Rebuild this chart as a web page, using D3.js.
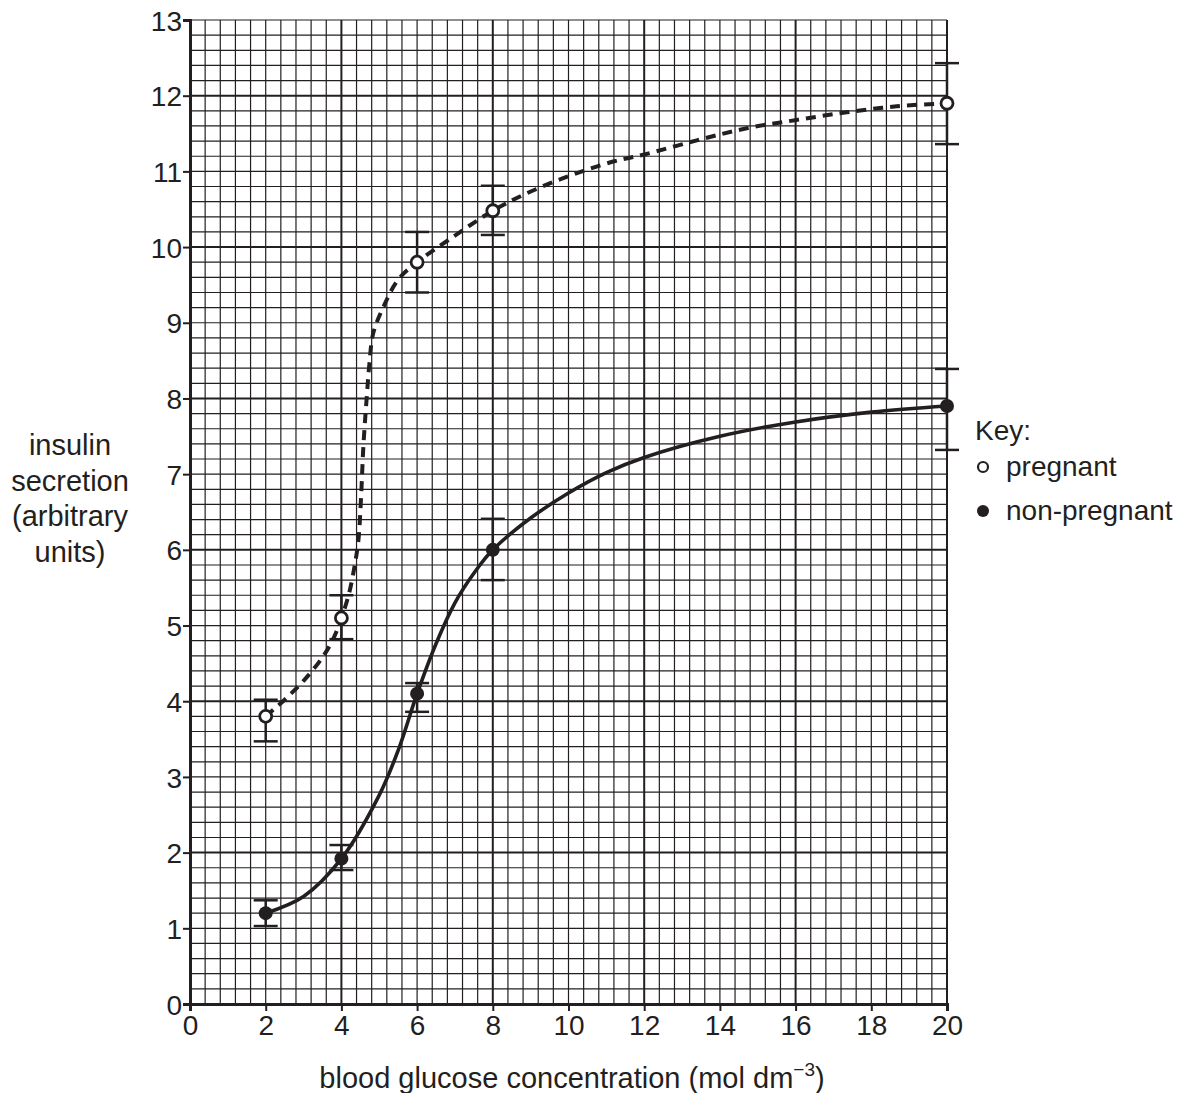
<!DOCTYPE html>
<html>
<head>
<meta charset="utf-8">
<script src="https://cdn.jsdelivr.net/npm/d3@7"></script>
<style>
  html, body { margin: 0; padding: 0; background: #fff; }
  svg text { font-family: "Liberation Sans", Arial, Helvetica, sans-serif; fill: #231f20; }
</style>
</head>
<body>
<svg id="chart" width="1192" height="1093"></svg>
<script>
// ---- data ----
const xTicks = [0, 2, 4, 6, 8, 10, 12, 14, 16, 18, 20];
const yTicks = [0, 1, 2, 3, 4, 5, 6, 7, 8, 9, 10, 11, 12, 13];
const glucose = [2, 4, 6, 8, 20];
const pregnantMean = [3.8, 5.1, 9.8, 10.48, 11.9];
const pregnantLow  = [3.47, 4.82, 9.4, 10.16, 11.36];
const pregnantHigh = [4.02, 5.4, 10.2, 10.81, 12.43];
const nonPregMean = [1.2, 1.92, 4.1, 6.0, 7.9];
const nonPregLow  = [1.03, 1.77, 3.86, 5.6, 7.32];
const nonPregHigh = [1.37, 2.1, 4.24, 6.41, 8.39];
// hand-drawn best-fit curves
const pregnantCurveX = [2, 2.5, 3.0, 3.5, 3.8, 4.0, 4.2, 4.36, 4.45, 4.52, 4.58, 4.67, 4.74, 4.84, 5.11, 5.5, 6.0, 6.82, 8.0, 8.81, 9.86, 11.18, 11.98, 13.39, 14.71, 16.03, 17.35, 18.67, 20];
const pregnantCurveY = [3.8, 4.02, 4.27, 4.58, 4.84, 5.1, 5.42, 5.82, 6.13, 6.7, 7.36, 8.02, 8.46, 8.86, 9.21, 9.57, 9.8, 10.09, 10.48, 10.69, 10.91, 11.13, 11.22, 11.41, 11.57, 11.68, 11.78, 11.86, 11.9];
const nonPregCurveX = [2, 3, 4, 5, 5.5, 6, 6.5, 7, 7.5, 8, 9, 10, 11, 12, 14, 16, 18, 20];
const nonPregCurveY = [1.2, 1.42, 1.92, 2.76, 3.35, 4.1, 4.76, 5.3, 5.69, 6.0, 6.42, 6.75, 7.02, 7.22, 7.5, 7.69, 7.82, 7.9];
const legendLabels = ["pregnant", "non-pregnant"];
const xTitle = "blood glucose concentration (mol dm";
const yTitleLines = ["insulin", "secretion", "(arbitrary", "units)"];

// ---- drawing ----
const svg = d3.select("#chart");
const ink = "#231f20";
const x = d3.scaleLinear().domain([0, 20]).range([190, 947]);
const y = d3.scaleLinear().domain([0, 13]).range([1004, 20]);

// grid
const grid = svg.append("g");
const xMinor = d3.range(0, 20.0001, 0.4);
const yMinor = d3.range(0, 13.0001, 0.2);
xMinor.forEach((v, i) => {
  const major = i % 10 === 0;
  grid.append("line")
    .attr("x1", x(v)).attr("x2", x(v)).attr("y1", y(0)).attr("y2", y(13))
    .attr("stroke", ink).attr("stroke-width", major ? 2 : 1.2);
});
yMinor.forEach((v, i) => {
  const major = i % 10 === 0;
  grid.append("line")
    .attr("x1", x(0)).attr("x2", x(20)).attr("y1", y(v)).attr("y2", y(v))
    .attr("stroke", ink).attr("stroke-width", major ? 2 : 1.2);
});

// axes
const xAxis = svg.append("g").attr("transform", `translate(0,${y(0)})`)
  .call(d3.axisBottom(x).tickValues(xTicks).tickSize(7).tickPadding(4).tickFormat(d3.format("d")));
const yAxis = svg.append("g").attr("transform", `translate(${x(0)},0)`)
  .call(d3.axisLeft(y).tickValues(yTicks).tickSize(7).tickPadding(1).tickFormat(d3.format("d")));
[xAxis, yAxis].forEach(a => {
  a.attr("font-size", 28).attr("font-family", "Liberation Sans, Arial, sans-serif");
  a.select(".domain").attr("stroke", ink).attr("stroke-width", 3);
  a.selectAll(".tick line").attr("stroke", ink).attr("stroke-width", 2);
  a.selectAll(".tick text").attr("fill", ink);
});
yAxis.selectAll(".tick text").attr("dy", "0.36em");

// curves
const line = d3.line().x(d => x(d[0])).y(d => y(d[1])).curve(d3.curveCatmullRom.alpha(0.5));
svg.append("path")
  .datum(pregnantCurveX.map((v, i) => [v, pregnantCurveY[i]]))
  .attr("d", line).attr("fill", "none").attr("stroke", ink)
  .attr("stroke-width", 4).attr("stroke-dasharray", "10,7");
svg.append("path")
  .datum(nonPregCurveX.map((v, i) => [v, nonPregCurveY[i]]))
  .attr("d", line).attr("fill", "none").attr("stroke", ink)
  .attr("stroke-width", 3.6);

// error bars
function errorBars(mean, lo, hi) {
  const g = svg.append("g").attr("stroke", ink).attr("stroke-width", 2.5);
  glucose.forEach((gx, i) => {
    const cx = x(gx);
    g.append("line").attr("x1", cx).attr("x2", cx).attr("y1", y(lo[i])).attr("y2", y(hi[i]));
    g.append("line").attr("x1", cx - 12).attr("x2", cx + 12).attr("y1", y(lo[i])).attr("y2", y(lo[i]));
    g.append("line").attr("x1", cx - 12).attr("x2", cx + 12).attr("y1", y(hi[i])).attr("y2", y(hi[i]));
  });
}
errorBars(pregnantMean, pregnantLow, pregnantHigh);
errorBars(nonPregMean, nonPregLow, nonPregHigh);

// markers
svg.append("g").selectAll("circle").data(glucose).join("circle")
  .attr("cx", d => x(d)).attr("cy", (d, i) => y(pregnantMean[i])).attr("r", 6)
  .attr("fill", "#fff").attr("stroke", ink).attr("stroke-width", 2.8);
svg.append("g").selectAll("circle").data(glucose).join("circle")
  .attr("cx", d => x(d)).attr("cy", (d, i) => y(nonPregMean[i])).attr("r", 7)
  .attr("fill", ink);

// legend
svg.append("text").attr("x", 975).attr("y", 440).attr("font-size", 28).text("Key:");
svg.append("circle").attr("cx", 983).attr("cy", 467).attr("r", 5)
  .attr("fill", "#fff").attr("stroke", ink).attr("stroke-width", 2.2);
svg.append("text").attr("x", 1006).attr("y", 476).attr("font-size", 28).text(legendLabels[0]);
svg.append("circle").attr("cx", 983).attr("cy", 511).attr("r", 6).attr("fill", ink);
svg.append("text").attr("x", 1006).attr("y", 520).attr("font-size", 28).text(legendLabels[1]);

// axis titles
const xt = svg.append("text").attr("x", 572).attr("y", 1088).attr("text-anchor", "middle").attr("font-size", 29);
xt.append("tspan").text(xTitle);
xt.append("tspan").attr("font-size", 19).attr("dy", -12).text("\u22123");
xt.append("tspan").attr("dy", 12).text(")");

const yt = svg.append("text").attr("text-anchor", "middle").attr("font-size", 29);
yTitleLines.forEach((t, i) => {
  yt.append("tspan").attr("x", 70).attr("y", 455 + i * 35.5).text(t);
});
</script>
</body>
</html>
